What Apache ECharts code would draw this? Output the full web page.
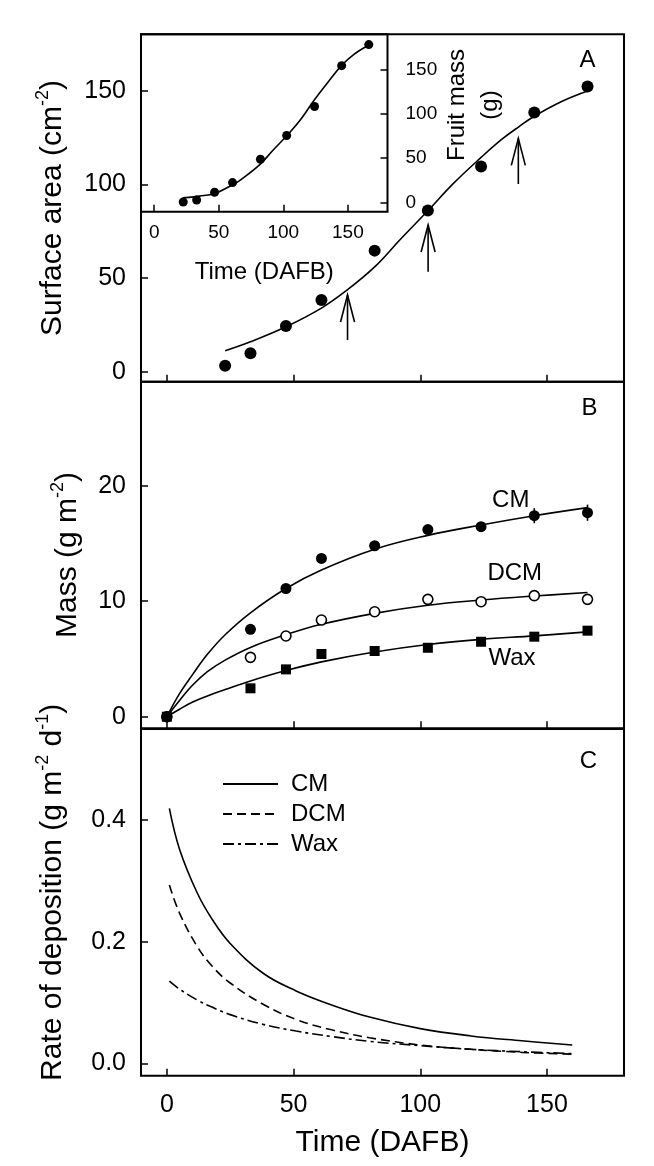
<!DOCTYPE html>
<html><head><meta charset="utf-8">
<script src="https://cdn.jsdelivr.net/npm/echarts@6/dist/echarts.min.js"></script>
<style>html,body{margin:0;padding:0;background:#fff;}#c{width:654px;height:1166px;}</style>
</head><body><div id="c"></div>
<script>
// ---- tick labels ----
const xTicks = [0, 50, 100, 150];
const areaTicks = [0, 50, 100, 150];
const fruitTicks = [0, 50, 100, 150];
const massTicks = [0, 10, 20];
const rateTicks = [0, 0.2, 0.4];

// ---- Panel A: surface area ----
const areaDays = [23, 33, 47, 61, 82, 103, 124, 145, 166];
const areaVals = [3.2, 9.8, 24.4, 38.3, 64.7, 86.1, 109.6, 138.5, 152.4];
const areaFitDays = [23, 33, 47, 61, 71, 82, 92, 103, 113, 124, 132, 139, 145, 156, 166];
const areaFitVals = [11.2, 16, 24, 34, 43.5, 56, 70.5, 86, 100.5, 114.5, 124, 131, 136.5, 144.5, 150];
const arrowDays = [71.3, 103.1, 138.7];
const arrowTail = [16.9, 53.4, 100.3];
const arrowTip = [41.0, 78.4, 124.7];

// ---- Inset: fruit mass ----
const fruitDays = [22.5, 32.9, 46.8, 60.7, 82.3, 102.6, 124.2, 145.2, 166.2];
const fruitVals = [0.3, 2.6, 11.3, 22.3, 48.8, 75.7, 108.6, 154.9, 178.8];
const fruitFitDays = [22, 35, 47, 61, 67, 82, 92, 103, 113, 124, 134, 145, 154, 166];
const fruitFitVals = [5, 7, 10, 20, 25.5, 43, 59, 76, 93, 116, 135, 155, 167, 178];

// ---- Panel B: mass ----
const massDays = [0, 33, 47, 61, 82, 103, 124, 145, 166];
const cmVals = [0, 7.57, 11.1, 13.7, 14.8, 16.2, 16.45, 17.4, 17.66];
const dcmVals = [0, 5.14, 6.99, 8.37, 9.09, 10.16, 9.96, 10.48, 10.16];
const waxVals = [0, 2.46, 4.1, 5.43, 5.69, 5.97, 6.49, 6.93, 7.45];
const cmErr = [0, 0, 0, 0, 0, 0, 0, 0.65, 0.7];
const dcmErr = [0, 0, 0, 0, 0, 0, 0, 0.35, 0];
const massFitDays = [0, 5, 10, 16, 23, 33, 47, 61, 82, 103, 124, 145, 166];
const cmFit = [0, 2.0, 3.6, 5.4, 7.1, 9.0, 11.1, 12.7, 14.5, 15.7, 16.6, 17.4, 18.1];
const dcmFit = [0, 1.4, 2.7, 3.9, 4.9, 6.0, 7.1, 8.0, 8.95, 9.65, 10.1, 10.45, 10.75];
const waxFit = [0, 0.65, 1.25, 1.8, 2.35, 3.1, 4.0, 4.75, 5.6, 6.25, 6.7, 7.0, 7.35];
const curveNames = ['CM', 'DCM', 'Wax'];
const curveLabelDays = [135.7, 137.3, 136.2];
const curveLabelVals = [18.76, 12.4, 5.06];

// ---- Panel C: rate of deposition ----
const rateDays = [1, 5, 12, 18, 25, 38, 51, 65, 80, 100, 120, 140, 160];
const cmRate = [0.419, 0.352, 0.28, 0.236, 0.197, 0.148, 0.119, 0.096, 0.076, 0.057, 0.045, 0.037, 0.030];
const dcmRate = [0.293, 0.247, 0.192, 0.159, 0.132, 0.097, 0.072, 0.055, 0.042, 0.030, 0.023, 0.018, 0.015];
const waxRate = [0.135, 0.122, 0.104, 0.092, 0.080, 0.064, 0.053, 0.044, 0.036, 0.029, 0.023, 0.019, 0.016];

const FF = "'Liberation Sans', Arial, sans-serif";
const zip = (a, b) => a.map((v, i) => [v, b[i]]);

function gridCfg(top, height, left, width) {
  const g = { top: top, height: height, left: left, show: true, borderColor: '#000', borderWidth: 2,
    containLabel: false, outerBoundsMode: 'none' };
  if (width != null) g.width = width; else g.right = 30;
  return g;
}
function tickCfg(vals) {
  return { show: true, inside: true, length: 7, customValues: vals, lineStyle: { color: '#000', width: 1.5 } };
}
function xCfg(gi, min, max, showLabel, extra) {
  return Object.assign({
    type: 'value', gridIndex: gi, min: min, max: max,
    splitLine: { show: false }, axisLine: { show: false, onZero: false },
    axisTick: tickCfg(xTicks),
    axisLabel: { show: showLabel, customValues: xTicks, fontSize: 25, fontFamily: FF, color: '#000', margin: 17 }
  }, extra || {});
}
function yCfg(gi, min, max, ticks, extra, labelExtra) {
  return Object.assign({
    type: 'value', gridIndex: gi, min: min, max: max,
    splitLine: { show: false }, axisLine: { show: false, onZero: false },
    axisTick: tickCfg(ticks),
    axisLabel: Object.assign({ show: true, customValues: ticks, fontSize: 25, fontFamily: FF, color: '#000', margin: 15 }, labelExtra || {})
  }, extra || {});
}
const richName = {
  a: { fontSize: 30, fontFamily: FF, color: '#000', lineHeight: 34, verticalAlign: 'bottom' },
  s: { fontSize: 18, fontFamily: FF, color: '#000', lineHeight: 18, verticalAlign: 'top' }
};
function nameStyle(pad) { return { fontSize: 30, fontFamily: FF, color: '#000', rich: richName, padding: pad || 0 }; }

const lineS = (name, xi, days, vals, type) => ({
  type: 'line', name: name, xAxisIndex: xi, yAxisIndex: xi, data: zip(days, vals),
  smooth: 0.4, symbol: 'none', showSymbol: false, silent: true,
  lineStyle: { color: '#000', width: 1.6, type: type || 'solid' }, itemStyle: { color: '#000' }, z: 2
});
const scatterS = (name, xi, days, vals, symbol, size, fill) => ({
  type: 'scatter', name: name, xAxisIndex: xi, yAxisIndex: xi, data: zip(days, vals),
  symbol: symbol, symbolSize: size, silent: true,
  itemStyle: { color: fill, borderColor: '#000', borderWidth: fill === '#fff' ? 1.6 : 0, opacity: 1 }, z: 4
});
function errS(xi, days, vals, errs) {
  const d = [];
  days.forEach((x, i) => { if (errs[i] > 0) d.push([x, vals[i] - errs[i], vals[i] + errs[i]]); });
  return {
    type: 'custom', xAxisIndex: xi, yAxisIndex: xi, data: d, silent: true, z: 3,
    renderItem: (p, api) => {
      const a = api.coord([api.value(0), api.value(1)]);
      const b = api.coord([api.value(0), api.value(2)]);
      return { type: 'line', shape: { x1: a[0], y1: a[1], x2: b[0], y2: b[1] }, style: { stroke: '#000', lineWidth: 1.6 } };
    }
  };
}
const letter = (t, x, y) => ({ type: 'text', x: x, y: y, style: { text: t, font: "24px 'Liberation Sans', Arial", fill: '#000', align: 'center', verticalAlign: 'middle', textAlign: 'center', textVerticalAlign: 'middle' } });

const option = {
  animation: false,
  backgroundColor: '#fff',
  grid: [
    gridCfg(34.3, 347.4, 141),          // A
    gridCfg(34.3, 177.4, 141, 246.5),   // inset
    gridCfg(381.7, 346.6, 141),         // B
    gridCfg(729, 346.7, 141)            // C
  ],
  xAxis: [
    xCfg(0, -10.2, 180.4, false),
    xCfg(1, -10.2, 180.7, true, {
      name: 'Time (DAFB)', nameLocation: 'middle', nameGap: 49,
      nameTextStyle: { fontSize: 24, fontFamily: FF, color: '#000' },
      axisLabel: { show: true, customValues: xTicks, fontSize: 19, fontFamily: FF, color: '#000', margin: 12 }
    }),
    xCfg(2, -10.2, 180.4, false),
    xCfg(3, -10.2, 180.4, true, {
      name: 'Time (DAFB)', nameLocation: 'middle', nameGap: 52,
      nameTextStyle: { fontSize: 30, fontFamily: FF, color: '#000' }
    })
  ],
  yAxis: [
    yCfg(0, -5.34, 180.3, areaTicks, {
      name: '{a|Surface area (cm}{s|-2}{a|)}', nameLocation: 'middle', nameGap: 73, nameTextStyle: nameStyle()
    }),
    yCfg(1, -10.7, 190.5, fruitTicks, {
      position: 'right', name: 'Fruit mass\n(g)', nameLocation: 'middle', nameGap: 50,
      nameTextStyle: { fontSize: 24, fontFamily: FF, color: '#000', lineHeight: 33, padding: [0, 0, 0, 36] }
    }, { fontSize: 19, margin: 18 }),
    yCfg(2, -1.0, 29.0, massTicks, {
      name: '{a|Mass (g m}{s|-2}{a|)}', nameLocation: 'middle', nameGap: 58, nameTextStyle: nameStyle()
    }),
    yCfg(3, -0.0204, 0.5496, rateTicks, {
      name: '{a|Rate of deposition (g m}{s|-2}{a| d}{s|-1}{a|)}', nameLocation: 'middle', nameGap: 73,
      nameTextStyle: nameStyle([0, 0, 0, 20])
    }, { formatter: v => v.toFixed(1) })
  ],
  legend: {
    data: curveNames, orient: 'vertical', left: 222, top: 772, padding: 0,
    itemWidth: 55, itemHeight: 14, itemGap: 6, selectedMode: false,
    itemStyle: { opacity: 0, borderWidth: 0 },
    textStyle: { fontSize: 24, fontFamily: FF, color: '#000', lineHeight: 24, padding: [0, 0, 0, 8] }
  },
  graphic: [letter('A', 587.5, 60), letter('B', 589.5, 408), letter('C', 588.5, 761.5)],
  series: [
    // Panel A
    lineS('Area fit', 0, areaFitDays, areaFitVals),
    scatterS('Area', 0, areaDays, areaVals, 'circle', 12, '#000'),
    {
      type: 'custom', name: 'arrows', xAxisIndex: 0, yAxisIndex: 0, silent: true, z: 3,
      data: arrowDays.map((d, i) => [d, arrowTail[i], arrowTip[i]]),
      renderItem: (p, api) => {
        const t = api.coord([api.value(0), api.value(1)]);
        const h = api.coord([api.value(0), api.value(2)]);
        const hw = 7, hl = 27;
        return { type: 'group', children: [
          { type: 'line', shape: { x1: t[0], y1: t[1], x2: h[0], y2: h[1] }, style: { stroke: '#000', lineWidth: 1.6 } },
          { type: 'polyline', shape: { points: [[h[0] - hw, h[1] + hl], [h[0], h[1]], [h[0] + hw, h[1] + hl]] }, style: { stroke: '#000', fill: null, lineWidth: 1.6 } }
        ] };
      }
    },
    // Inset
    lineS('Fruit fit', 1, fruitFitDays, fruitFitVals),
    scatterS('Fruit mass', 1, fruitDays, fruitVals, 'circle', 9, '#000'),
    // Panel B
    lineS('CM fit', 2, massFitDays, cmFit),
    lineS('DCM fit', 2, massFitDays, dcmFit),
    lineS('Wax fit', 2, massFitDays, waxFit),
    errS(2, massDays, cmVals, cmErr),
    errS(2, massDays, dcmVals, dcmErr),
    scatterS('CM mass', 2, massDays, cmVals, 'circle', 11, '#000'),
    scatterS('DCM mass', 2, massDays, dcmVals, 'circle', 10, '#fff'),
    scatterS('Wax mass', 2, massDays, waxVals, 'rect', 10, '#000'),
    {
      type: 'scatter', name: 'curve labels', xAxisIndex: 2, yAxisIndex: 2, silent: true,
      data: curveLabelDays.map((d, i) => [d, curveLabelVals[i], curveNames[i]]),
      symbolSize: 1, itemStyle: { color: 'rgba(0,0,0,0)' }, z: 5,
      label: { show: true, position: 'inside', formatter: p => p.value[2], fontSize: 24, fontFamily: FF,
        color: '#000', opacity: 1, textBorderWidth: 0, textBorderColor: 'transparent', textShadowBlur: 0 }
    },
    // Panel C
    lineS('CM', 3, rateDays, cmRate, 'solid'),
    lineS('DCM', 3, rateDays, dcmRate, [9, 5]),
    lineS('Wax', 3, rateDays, waxRate, [11, 4, 3, 4])
  ]
};
const chart = echarts.init(document.getElementById('c'), null, { renderer: 'canvas' });
chart.setOption(option);
</script></body></html>
